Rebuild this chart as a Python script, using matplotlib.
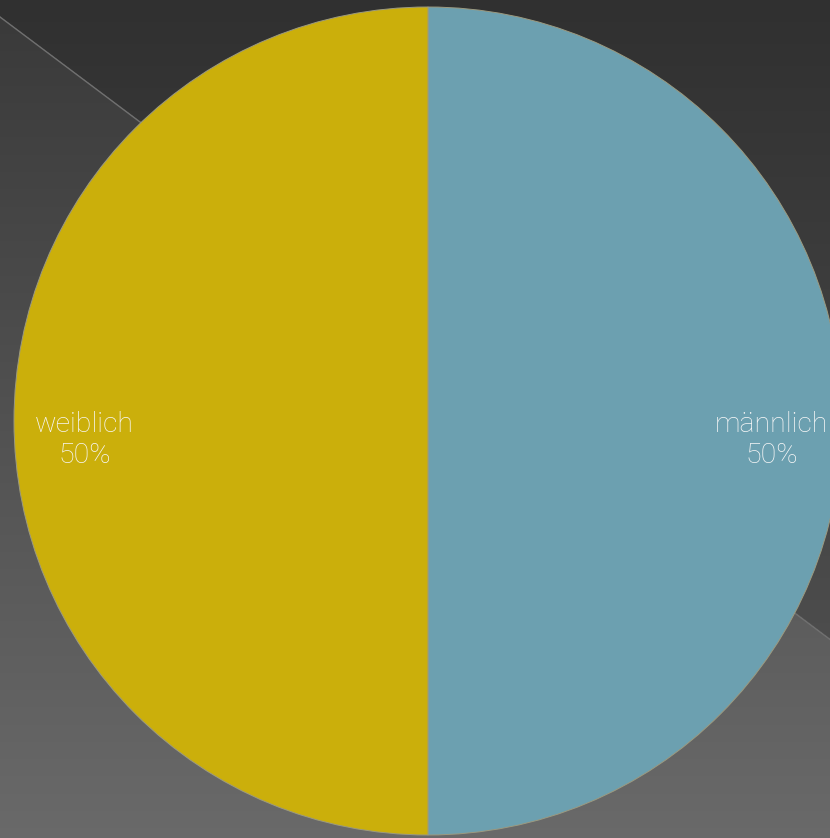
import numpy as np
import matplotlib
matplotlib.use('Agg')
import matplotlib.pyplot as plt

labels = ['männlich', 'weiblich']
shares = [50, 50]
colors = ['#6ca0b0', '#cbaf0b']

W, H = 830, 838
fig = plt.figure(figsize=(W / 100, H / 100), dpi=100)

# background: two vertical grey gradients split by a diagonal line
bg = fig.add_axes([0, 0, 1, 1])
yy, xx = np.mgrid[0:H, 0:W]
line_y = 17 + 0.75 * xx
upper = 48 + 0.045 * yy
lower = 57 + 0.058 * yy
grey = np.where(yy < line_y, upper, lower) / 255.0
bg.imshow(np.dstack([grey, grey, grey]), extent=(0, W, H, 0), aspect='auto')
bg.plot([0, W], [17, 17 + 0.75 * W], color='#707070', lw=1)
bg.set_xlim(0, W)
bg.set_ylim(H, 0)
bg.axis('off')

# pie: centre at (428, 421) px, radius 414 px
r = 414
cx, cy = 428, 421
ax = fig.add_axes([(cx - r) / W, (H - cy - r) / H, 2 * r / W, 2 * r / H])
ax.set_facecolor('none')
wedges, _ = ax.pie(shares, colors=colors, startangle=90, counterclock=False,
                   radius=1, wedgeprops=dict(edgecolor='#9c9a80', linewidth=0.7))
ax.set_xlim(-1, 1)
ax.set_ylim(-1, 1)
ax.axis('off')

for w, lab, val in zip(wedges, labels, shares):
    mid = np.deg2rad((w.theta1 + w.theta2) / 2)
    x = 0.83 * np.cos(mid)
    y = 0.83 * np.sin(mid) - 0.046
    ax.text(x, y, f'{lab}\n{val}%', ha='center', va='center', color='#f7f7f7',
            fontsize=20.5, family=['Roboto', 'DejaVu Sans'], fontweight='light',
            linespacing=1.17, clip_on=False)

fig.savefig('out.png', dpi=100)
